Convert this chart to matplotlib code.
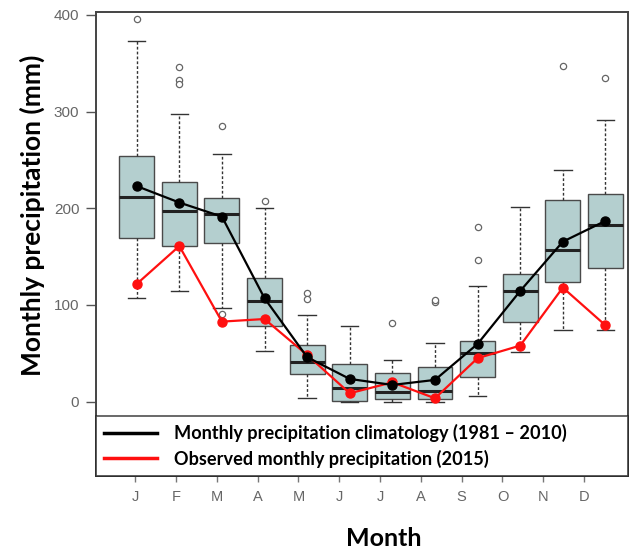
import numpy as np
import matplotlib
matplotlib.use("Agg")
import matplotlib.pyplot as plt

# Month labels and boxplot statistics (mm)
months = ['J', 'F', 'M', 'A', 'M', 'J', 'J', 'A', 'S', 'O', 'N', 'D']
q1 = [169, 161, 164.5, 78.6, 28.3, 1, 2.5, 3, 25.2, 82, 124, 138]
med = [212, 197.6, 194, 104, 41.4, 14.5, 9.7, 11.4, 50, 114.5, 157, 183]
q3 = [254.5, 227.6, 211, 127.5, 58.3, 38.6, 30, 36, 63, 132, 209, 214.5]
whislo = [107, 114, 96.6, 52.8, 3.5, 0, 0, 0, 6, 51, 74, 74]
whishi = [373, 298, 256, 200.4, 89.7, 78.6, 43, 61, 119.7, 201, 240, 291.4]
fliers = [[396], [346.5, 332.8, 328.6], [285, 90.7], [207.6], [112, 106.5], [],
          [81], [103, 105], [147, 180.7], [], [347.6], [335]]

# Climatological mean (1981-2010) and observed 2015
clim_mean = [223, 206, 191.4, 107, 46, 23.5, 17.3, 22.5, 59.7, 114.5, 165.5, 187]
obs_2015 = [121.7, 161, 82.8, 85.5, 48.3, 8.7, 20, 3.5, 45, 58, 118, 79]

pos = np.arange(1, len(months) + 1)

fig = plt.figure(figsize=(6.35, 5.52), dpi=100)
ax = fig.add_axes([96/635, 1 - 476/552, 532/635, 464/552])

stats = []
for i in range(len(months)):
    stats.append(dict(q1=q1[i], med=med[i], q3=q3[i], whislo=whislo[i],
                      whishi=whishi[i], fliers=fliers[i]))

ax.bxp(stats, positions=pos, widths=0.82, capwidths=0.41, patch_artist=True,
       boxprops=dict(facecolor='#b4cfcf', edgecolor='#4a4a4a', linewidth=1),
       medianprops=dict(color='#222222', linewidth=2.2),
       whiskerprops=dict(color='#333333', linewidth=1, linestyle=(0, (2, 1.5))),
       capprops=dict(color='#333333', linewidth=1),
       flierprops=dict(marker='o', markersize=4.5, markerfacecolor='white',
                       markeredgecolor='#666666', markeredgewidth=0.9),
       manage_ticks=False, zorder=2)

# Mean lines
ax.plot(pos, clim_mean, color='black', lw=1.6, marker='o', ms=6.5, zorder=4,
        label='Monthly precipitation climatology (1981 \u2013 2010)')
ax.plot(pos, obs_2015, color='#ff1010', lw=1.6, marker='o', ms=6.5, zorder=3,
        label='Observed monthly precipitation (2015)')

ax.set_xlim(0.045, 12.53)
ax.set_ylim(-76.9, 403.1)

# Axes styling
for s in ax.spines.values():
    s.set_color('#444444')
    s.set_linewidth(1.4)
ax.set_yticks([0, 100, 200, 300, 400])
ax.set_yticklabels(['0', '100', '200', '300', '400'], fontsize=11,
                   color='#666666', family='Liberation Sans')
ax.tick_params(axis='y', length=7, width=1, color='#555555', pad=5)

tick_pos = np.linspace(0.965, 11.5, 12)
ax.set_xticks(tick_pos)
ax.set_xticklabels(months, fontsize=10.5, color='#666666', family='Liberation Sans')
ax.tick_params(axis='x', length=4, width=1, color='#777777', pad=6)

# Legend covering bottom strip of the axes
leg = ax.legend(loc='lower left', bbox_to_anchor=(0, 0, 1, 0.136), mode='expand',
                borderaxespad=0, fancybox=False, frameon=True, handlelength=2.9,
                handletextpad=0.95, borderpad=0.45, labelspacing=0.4,
                prop=dict(family='Lato', weight='bold', size=13.1))
leg.get_frame().set_edgecolor('#222222')
leg.get_frame().set_linewidth(1.2)
for h in leg.legend_handles:
    h.set_marker('')
    h.set_linewidth(2.5)

fig.text(32/635, 1 - 215/552, 'Monthly precipitation (mm)', rotation=90,
         ha='center', va='center', fontsize=19, fontweight='bold', family='Lato')
fig.text(384/635, 1 - 538/552, 'Month', ha='center', va='center',
         fontsize=18, fontweight='bold', family='Lato')

fig.savefig('out.png', dpi=100)
